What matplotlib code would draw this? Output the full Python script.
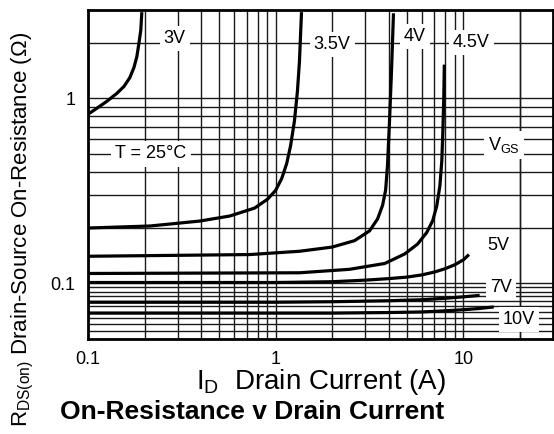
import numpy as np
import matplotlib
matplotlib.use("Agg")
import matplotlib.pyplot as plt

plt.rcParams['font.family'] = ['Liberation Sans', 'DejaVu Sans']
plt.rcParams['mathtext.fontset'] = 'custom'
plt.rcParams['mathtext.rm'] = 'Liberation Sans'
plt.rcParams['mathtext.default'] = 'regular'

# drain current (A) / on-resistance (ohm) for each gate voltage
i_3v = [0.1, 0.1117, 0.1262, 0.1426, 0.1555, 0.1672, 0.1756, 0.182, 0.1866, 0.1911, 0.1935]
r_3v = [0.82, 0.884, 0.964, 1.064, 1.159, 1.295, 1.465, 1.677, 1.968, 2.337, 2.92]

i_35v = [0.1, 0.2136, 0.394, 0.569, 0.772, 0.905, 0.999, 1.077, 1.144, 1.2, 1.258, 1.305, 1.338, 1.372]
r_35v = [0.199, 0.204, 0.217, 0.231, 0.255, 0.285, 0.318, 0.369, 0.444, 0.554, 0.753, 1.09, 1.58, 2.92]

i_4v = [0.1, 0.727, 1.34, 2.0, 2.63, 3.16, 3.49, 3.71, 3.85, 3.94, 4.04, 4.14, 4.24]
r_4v = [0.14, 0.143, 0.149, 0.157, 0.17, 0.192, 0.223, 0.264, 0.319, 0.434, 0.761, 1.42, 2.88]

i_45v = [0.1, 1.34, 2.47, 3.81, 4.86, 5.70, 6.37, 6.86, 7.21, 7.49, 7.67, 7.77, 7.86, 7.91]
r_45v = [0.113, 0.114, 0.119, 0.128, 0.144, 0.163, 0.188, 0.218, 0.262, 0.336, 0.46, 0.666, 1.025, 1.52]

i_5v = [0.1, 0.5, 1, 2, 3, 4, 5, 6, 7, 8, 9, 10, 10.7]
r_5v = [0.101, 0.101, 0.101, 0.102, 0.104, 0.106, 0.108, 0.111, 0.115, 0.12, 0.126, 0.134, 0.143]

i_7v = [0.1, 1, 2, 4, 6, 8, 10, 12.2]
r_7v = [0.079, 0.079, 0.0795, 0.0805, 0.0815, 0.083, 0.0845, 0.086]

i_10v = [0.1, 1, 2, 4, 6, 8, 10, 12, 14.5]
r_10v = [0.069, 0.069, 0.069, 0.0695, 0.070, 0.071, 0.072, 0.073, 0.0745]

curves = [(i_3v, r_3v), (i_35v, r_35v), (i_4v, r_4v), (i_45v, r_45v),
          (i_5v, r_5v), (i_7v, r_7v), (i_10v, r_10v)]

# curve labels: text, x, y
labels = [('3V', 0.29, 2.1), ('3.5V', 2.0, 1.95), ('4V', 5.5, 2.15), ('4.5V', 11, 2.0),
          ('T = 25°C', 0.216, 0.5), ('V$_{GS}$', 16.5, 0.56),
          ('5V', 15.4, 0.161), ('7V', 15.8, 0.095), ('10V', 19.8, 0.064)]

x_ticks = [0.1, 1, 10]
x_ticklabels = ['0.1', '1', '10']
y_ticks = [0.1, 1]
y_ticklabels = ['0.1', '1']

fig = plt.figure(figsize=(5.54, 4.34), dpi=100)
ax = fig.add_axes([88/554, 1-339/434, 465/554, 329/434])
ax.set_xscale('log')
ax.set_yscale('log')
ax.set_xlim(0.1, 30)
ax.set_ylim(0.05, 3)

# grid
xgrid = [k*d for d in (0.1, 1, 10) for k in range(1, 10)] + [20]
ygrid = list(np.arange(0.05, 0.1, 0.005)) + [k*0.1 for k in range(1, 10)] + [1, 2]
for gx in xgrid:
    ax.axvline(gx, color='#1a1a1a', lw=1.0, zorder=1)
for gy in ygrid:
    ax.axhline(gy, color='#1a1a1a', lw=1.0, zorder=1)

for i, r in curves:
    ax.plot(i, r, color='black', lw=2.3, zorder=4, solid_capstyle='butt')

for s, x, y in labels:
    ax.text(x, y, s, fontsize=13, ha='center', va='center', zorder=3,
            bbox=dict(facecolor='white', edgecolor='none', pad=3))

ax.set_xticks(x_ticks)
ax.set_xticklabels(x_ticklabels)
ax.set_yticks(y_ticks)
ax.set_yticklabels(y_ticklabels)
ax.minorticks_off()
ax.tick_params(length=0, labelsize=13, pad=9)
for sp in ax.spines.values():
    sp.set_linewidth(2)
    sp.set_zorder(5)

fig.text(321/554, 1-382/434, 'I$_{D}$  Drain Current (A)', fontsize=20,
         ha='center', va='center')
fig.text(23/554, 1-229/434, 'R$_{DS(on)}$ Drain-Source On-Resistance (Ω)', fontsize=16,
         ha='center', va='center', rotation=90)
fig.text(252/554, 1-412/434, 'On-Resistance v Drain Current', fontsize=19,
         fontweight='bold', ha='center', va='center')

fig.savefig('out.png', dpi=100)
